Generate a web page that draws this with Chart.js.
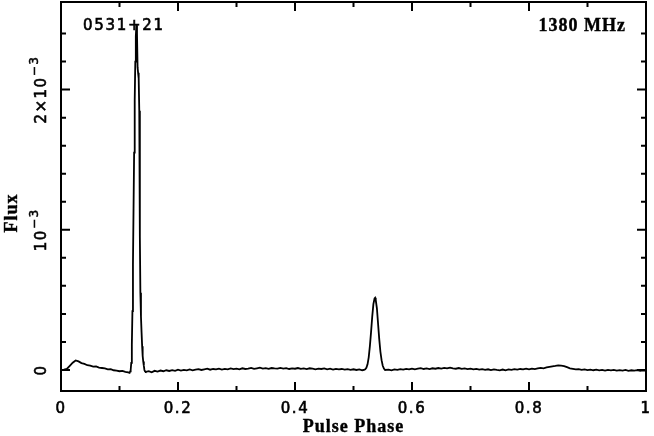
<!DOCTYPE html>
<html>
<head>
<meta charset="utf-8">
<script src="https://cdn.jsdelivr.net/npm/chart.js@4.4.0/dist/chart.umd.min.js"></script>
<style>
  html, body { margin: 0; padding: 0; background: #fff; }
</style>
</head>
<body>
<canvas id="profile" width="654" height="436"></canvas>
<script>
/* pulse profile of 0531+21 at 1380 MHz, flux in units of 1e-3 */
var phase = [
  0.000, 0.005, 0.010, 0.015, 0.020, 0.025, 0.030, 0.035, 0.040, 0.045,
  0.050, 0.055, 0.060, 0.065, 0.070, 0.075, 0.080, 0.085, 0.090, 0.095,
  0.100, 0.105, 0.110, 0.115,
  0.1172, 0.1182, 0.1191, 0.1201, 0.1211, 0.1221, 0.1230, 0.1240, 0.1250, 0.1260,
  0.1270, 0.1279, 0.1289, 0.1299, 0.1309, 0.1318, 0.1328, 0.1338, 0.1348, 0.1357,
  0.1367, 0.1377, 0.1387, 0.1396, 0.1406, 0.1416, 0.1426, 0.1436,
  0.145, 0.150, 0.155, 0.160, 0.165, 0.170, 0.175, 0.180, 0.185, 0.190,
  0.195, 0.200, 0.205, 0.210, 0.215, 0.220, 0.225, 0.230, 0.235, 0.240,
  0.245, 0.250, 0.255, 0.260, 0.265, 0.270, 0.275, 0.280, 0.285, 0.290,
  0.295, 0.300, 0.305, 0.310, 0.315, 0.320, 0.325, 0.330, 0.335, 0.340,
  0.345, 0.350, 0.355, 0.360, 0.365, 0.370, 0.375, 0.380, 0.385, 0.390,
  0.395, 0.400, 0.405, 0.410, 0.415, 0.420, 0.425, 0.430, 0.435, 0.440,
  0.445, 0.450, 0.455, 0.460, 0.465, 0.470, 0.475, 0.480, 0.485, 0.490,
  0.495, 0.500, 0.505, 0.510, 0.515,
  0.518, 0.520, 0.522, 0.524, 0.526, 0.528, 0.530, 0.532, 0.534, 0.536,
  0.537, 0.538, 0.540, 0.542, 0.544, 0.546, 0.548, 0.550, 0.552, 0.554,
  0.560, 0.565, 0.570, 0.575, 0.580, 0.585, 0.590, 0.595, 0.600, 0.605,
  0.610, 0.615, 0.620, 0.625, 0.630, 0.635, 0.640, 0.645, 0.650, 0.655,
  0.660, 0.665, 0.670, 0.675, 0.680, 0.685, 0.690, 0.695, 0.700, 0.705,
  0.710, 0.715, 0.720, 0.725, 0.730, 0.735, 0.740, 0.745, 0.750, 0.755,
  0.760, 0.765, 0.770, 0.775, 0.780, 0.785, 0.790, 0.795, 0.800, 0.805,
  0.810, 0.815, 0.820, 0.825, 0.830, 0.835, 0.840, 0.845, 0.850, 0.855,
  0.860, 0.865, 0.870, 0.875, 0.880, 0.885, 0.890, 0.895, 0.900, 0.905,
  0.910, 0.915, 0.920, 0.925, 0.930, 0.935, 0.940, 0.945, 0.950, 0.955,
  0.960, 0.965, 0.970, 0.975, 0.980, 0.985, 0.990, 0.995, 1.000
];
var flux = [
  0.000, 0.002, 0.008, 0.030, 0.052, 0.068, 0.061, 0.049, 0.043, 0.034,
  0.031, 0.024, 0.026, 0.017, 0.014, 0.011, 0.004, 0.006, -0.002, -0.004,
  -0.009, -0.006, -0.013, -0.017,
  -0.020, -0.010, 0.000, 0.050, 0.180, 0.420, 0.750, 1.150, 1.550, 1.920,
  2.200, 2.380, 2.460, 2.400, 2.160, 2.120, 2.080, 1.850, 0.950, 0.550,
  0.380, 0.270, 0.170, 0.100, 0.060, 0.030, 0.000, -0.010,
  -0.013, -0.008, -0.016, -0.006, -0.011, -0.004, -0.009, -0.002, -0.007, -0.001,
  -0.006, 0.002, -0.004, 0.001, -0.003, 0.004, -0.002, 0.003, 0.006, 0.000,
  0.005, 0.009, 0.002, 0.007, 0.004, 0.010, 0.003, 0.008, 0.005, 0.011,
  0.006, 0.009, 0.004, 0.012, 0.007, 0.010, 0.015, 0.008, 0.012, 0.016,
  0.010, 0.013, 0.008, 0.014, 0.011, 0.009, 0.015, 0.010, 0.013, 0.007,
  0.012, 0.009, 0.014, 0.008, 0.011, 0.006, 0.012, 0.009, 0.004, 0.010,
  0.007, 0.011, 0.005, 0.009, 0.003, 0.008, 0.004, 0.007, 0.002, 0.006,
  0.001, 0.005, 0.000, 0.004, -0.002,
  0.000, 0.005, 0.015, 0.040, 0.090, 0.170, 0.270, 0.380, 0.470, 0.510,
  0.515, 0.500, 0.440, 0.330, 0.220, 0.130, 0.070, 0.030, 0.010, 0.000,
  0.003, -0.003, 0.004, 0.001, 0.006, 0.002, 0.008, 0.004, 0.010, 0.005,
  0.009, 0.013, 0.007, 0.011, 0.006, 0.012, 0.009, 0.014, 0.010, 0.015,
  0.011, 0.016, 0.012, 0.009, 0.014, 0.008, 0.011, 0.006, 0.010, 0.004,
  0.008, 0.002, 0.006, 0.001, 0.005, -0.001, 0.004, 0.000, -0.003, 0.003,
  -0.002, 0.004, 0.001, 0.006, 0.002, 0.007, 0.004, 0.009, 0.005, 0.010,
  0.006, 0.011, 0.015, 0.012, 0.018, 0.022, 0.026, 0.029, 0.033, 0.031,
  0.028, 0.020, 0.012, 0.008, 0.004, 0.006, 0.001, 0.004, -0.001, 0.003,
  -0.002, 0.002, -0.003, 0.001, -0.004, 0.000, -0.003, 0.001, -0.005, -0.001,
  -0.004, 0.000, -0.006, -0.002, -0.005, -0.001, -0.006, -0.003, -0.005
];

/* axis ticks */
var xMajor = [0, 0.2, 0.4, 0.6, 0.8, 1];
var xLabels = ['0', '0.2', '0.4', '0.6', '0.8', '1'];
var xMinor = [0.1, 0.3, 0.5, 0.7, 0.9];
var yMajor = [0, 1, 2];
var yLabels = ['0', '10', '2\u00d710'];
var yExponents = ['', '\u22123', '\u22123'];
var yMinor = [0.2, 0.4, 0.6, 0.8, 1.2, 1.4, 1.6, 1.8, 2.2, 2.4];

var sourceName = '0531+21';
var freqLabel = '1380 MHz';
var xTitle = 'Pulse Phase';
var yTitle = 'Flux';

var points = phase.map(function (p, i) { return { x: p, y: flux[i] }; });

var SANS = '"DejaVu Sans", sans-serif';
var SERIF = '"Liberation Serif", "DejaVu Serif", serif';

// fill plus a thin stroke, to get the heavy plotter look
function heavyText(c, txt, x, y, weight) {
    c.lineWidth = weight;
    c.strokeText(txt, x, y);
    c.fillText(txt, x, y);
}

/* frame, inward ticks and labels, drawn on the chart's own scales */
var framePlugin = {
    id: 'frame',
    afterDraw: function (chart) {
        var c = chart.ctx;
        var a = chart.chartArea;
        var xs = chart.scales.x;
        var ys = chart.scales.y;
        c.save();
        c.strokeStyle = '#000';
        c.fillStyle = '#000';
        c.lineWidth = 2;
        c.strokeRect(a.left, a.top, a.right - a.left, a.bottom - a.top);

        function xTick(v, len) {
            var px = xs.getPixelForValue(v);
            c.beginPath();
            c.moveTo(px, a.bottom); c.lineTo(px, a.bottom - len);
            c.moveTo(px, a.top); c.lineTo(px, a.top + len);
            c.stroke();
        }
        function yTick(v, len) {
            var py = ys.getPixelForValue(v);
            c.beginPath();
            c.moveTo(a.left, py); c.lineTo(a.left + len, py);
            c.moveTo(a.right, py); c.lineTo(a.right - len, py);
            c.stroke();
        }
        xMajor.forEach(function (v) { xTick(v, 9); });
        xMinor.forEach(function (v) { xTick(v, 5); });
        yMajor.forEach(function (v) { yTick(v, 9); });
        yMinor.forEach(function (v) { yTick(v, 5); });

        // x tick labels
        c.font = '15px ' + SANS;
        c.letterSpacing = '1.5px';
        c.textAlign = 'center';
        c.textBaseline = 'middle';
        xMajor.forEach(function (v, i) {
            heavyText(c, xLabels[i], xs.getPixelForValue(v), 409, 0.6);
        });

        // y tick labels, rotated
        yMajor.forEach(function (v, i) {
            var py = ys.getPixelForValue(v);
            c.save();
            c.translate(42, py);
            c.rotate(-Math.PI / 2);
            c.font = '15px ' + SANS;
            var w1 = c.measureText(yLabels[i]).width;
            c.font = '12px ' + SANS;
            var w2 = yExponents[i] ? c.measureText(yExponents[i]).width : 0;
            var start = -(w1 + w2) / 2;
            c.textAlign = 'left';
            c.font = '15px ' + SANS;
            heavyText(c, yLabels[i], start, 0, 0.6);
            if (yExponents[i]) {
                c.font = '12px ' + SANS;
                heavyText(c, yExponents[i], start + w1, -7, 0.5);
            }
            c.restore();
        });

        // axis titles
        c.letterSpacing = '1px';
        c.font = 'bold 18px ' + SERIF;
        c.textAlign = 'center';
        heavyText(c, xTitle, (a.left + a.right) / 2, 427, 0.4);
        c.save();
        c.translate(12, 213);
        c.rotate(-Math.PI / 2);
        heavyText(c, yTitle, 0, 0, 0.4);
        c.restore();

        // annotations
        c.letterSpacing = '1.7px';
        c.font = '15px ' + SANS;
        c.textAlign = 'left';
        heavyText(c, sourceName, 83, 26, 0.6);
        c.letterSpacing = '1px';
        c.font = 'bold 18px ' + SERIF;
        c.textAlign = 'right';
        heavyText(c, freqLabel, 626, 26, 0.4);
        c.restore();
    }
};

new Chart(document.getElementById('profile'), {
    type: 'line',
    data: {
        datasets: [{
            data: points,
            borderColor: '#000',
            borderWidth: 1.8,
            pointRadius: 0,
            tension: 0,
            fill: false
        }]
    },
    options: {
        responsive: false,
        animation: false,
        layout: { padding: { left: 61, right: 8, top: 2, bottom: 45 } },
        plugins: { legend: { display: false }, tooltip: { enabled: false } },
        scales: {
            x: { type: 'linear', min: 0, max: 1, display: false },
            y: { type: 'linear', min: -0.15, max: 2.625, display: false }
        }
    },
    plugins: [framePlugin]
});
</script>
</body>
</html>
